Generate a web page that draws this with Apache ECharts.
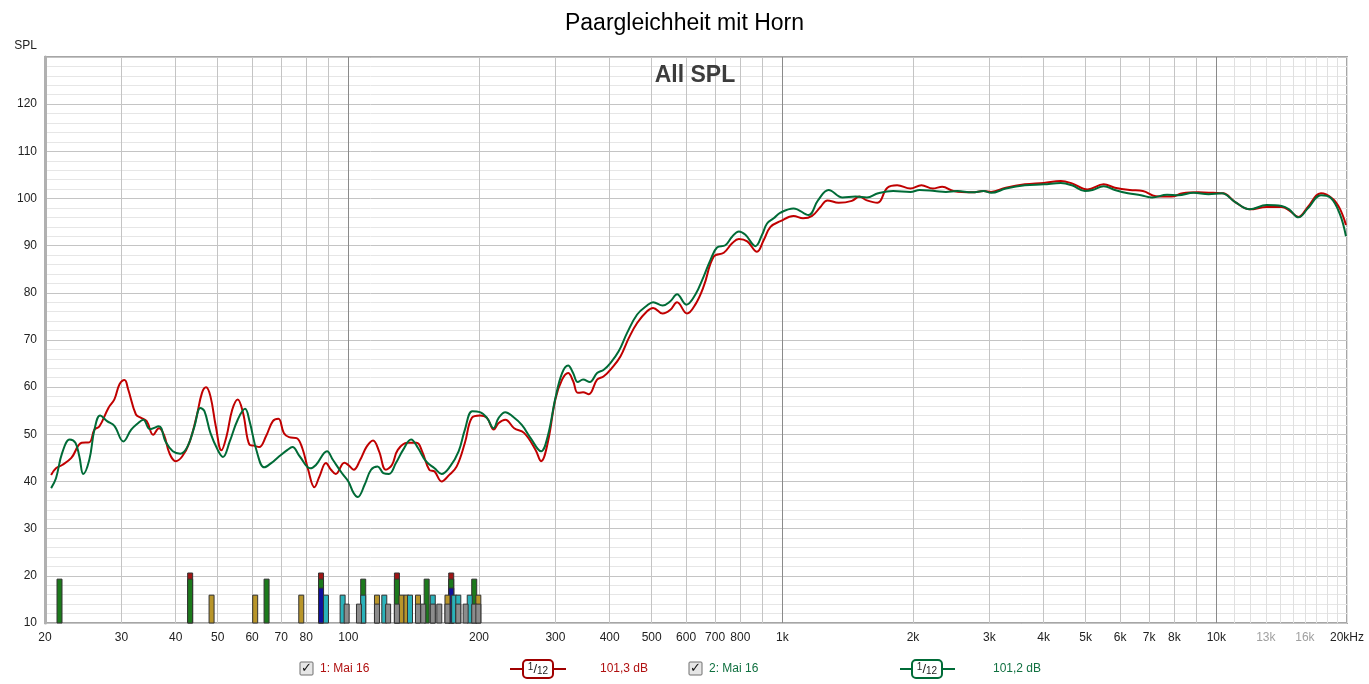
<!DOCTYPE html>
<html><head><meta charset="utf-8">
<script src="https://cdn.jsdelivr.net/npm/echarts@6/dist/echarts.min.js"></script>
<style>html,body{margin:0;padding:0;background:#fff}#c{width:1369px;height:684px}</style>
</head><body><div id="c"></div>
<script>
// ---- data ----
const redFreq = [20.66,21.2,21.9,23.0,24.3,25.3,26.0,26.7,28.0,28.9,29.7,30.5,31.1,32.4,33.3,34.3,35.5,36.6,37.6,38.7,40.0,41.4,43.0,44.7,46.0,47.0,48.1,49.5,51.0,52.4,54.0,55.6,57.2,59.2,60.6,62.3,64.6,67.0,69.0,71.0,73.0,76.0,78.3,80.8,83.5,85.8,88.8,91.2,93.5,97.9,100,102.9,106.5,110.2,114.0,117.7,122,126,130,136.7,143.7,147.9,153.6,158,164,170.8,177.7,185.6,192.6,201,208.6,216.3,222,230,241,254,270,278,288,300,310.8,320.9,329.5,337.7,347.4,358,374.2,387.7,405,423.5,442.7,462.8,487.8,503.7,530,552,572,603,630,659,695,733,766,794,830,874,906,939,990,1061,1116,1171,1224,1270,1348,1446,1505,1566,1657,1746,1839,1973,2091,2221,2336,2480,2739,2909,3026,3274,3620,4002,4381,4648,5049,5500,5837,6318,6770,7254,7877,8364,9087,9848,10390,11030,11940,13060,14140,14710,15460,16250,17420,18500,19240,19890];
const redSPL = [41.4,42.8,43.5,45.0,48.2,48.3,51.0,51.7,55.6,57.4,60.6,61.5,59.5,54.2,53.5,52.8,49.9,51.3,49.9,46.0,44.3,45.3,48.2,53.8,58.8,60.0,58.1,51.7,46.6,49.6,55.2,57.4,54.5,47.8,47.6,47.3,49.6,52.8,53.3,50.3,49.4,49.2,47.1,42.5,38.8,41.1,43.9,42.5,41.6,44.0,43.5,42.5,44.6,47.4,48.7,46.4,42.5,43.5,46.7,48.2,48.2,46.4,42.5,42.1,40.0,41.4,43.2,48.2,53.5,54.0,53.5,51.0,52.4,53.1,51.3,50.3,46.7,44.3,48.2,57.5,61.6,63.0,61.3,58.8,58.9,58.5,61.6,62.3,64.1,66.5,70.4,73.6,76.1,76.8,75.6,76.4,78.0,75.6,77.5,81.4,87.7,88.5,90.5,91.4,90.9,88.7,91.2,94.0,95.2,96.3,95.8,96.3,98.2,99.6,99.1,99.5,100.4,99.6,99.1,102.3,102.8,102.1,102.8,102.1,102.5,101.6,101.3,101.6,101.4,102.3,103.0,103.3,103.7,103.2,101.9,103.0,102.3,101.8,101.6,100.5,100.4,101.1,101.3,101.2,101.1,99.3,97.7,98.2,98.2,97.5,96.1,98.2,101.1,100.0,97.9,94.4];
const greenFreq = [20.66,21.2,21.9,22.8,23.5,24.0,24.5,25.3,26.0,26.8,27.8,28.9,30.3,31.6,32.7,33.7,34.9,36.6,37.9,39.4,41.0,42.6,44.2,45.6,46.6,48.1,50.0,51.4,53.3,55.6,57.8,59.2,61.5,64,66.4,69.0,72.4,74.3,77.3,81.7,84.2,89.3,92.1,96.6,100,102.9,105.1,109,112.8,116.8,120.4,124,128.7,133.7,139.5,144.7,150.9,158,164,171.6,179.5,185.6,193,201,208.6,216,222,230,239,251,263,278,288,300,310.8,320.9,329.5,337.7,347.4,360,374.2,387.7,401.6,419.6,438.8,462.8,487.8,503.7,530,552,572,601,630,659,683,707,739,766,794,822,867,898,922,955,990,1061,1149,1208,1278,1376,1475,1566,1662,1800,1973,2072,2245,2382,2527,2739,2909,3026,3274,3620,4002,4381,4648,4980,5182,5500,5837,6256,6705,7114,7700,8172,8857,9597,10290,11030,11940,13060,14140,14710,15460,16250,17420,18310,19240,19890];
const greenSPL = [38.6,40.7,46.0,48.9,48.2,45.3,41.6,44.6,51.0,54.0,52.8,51.8,48.5,51.0,52.3,53.1,51.1,51.7,48.5,46.4,45.9,47.4,51.7,55.6,54.9,50.3,46.7,45.2,48.5,53.1,55.4,52.8,46.4,43.0,43.9,45.2,46.7,47.3,45.3,42.8,43.5,46.4,44.6,41.8,40.0,37.5,36.7,39.3,42.5,43.2,41.8,41.6,43.9,46.7,48.9,47.1,44.3,42.8,41.6,43.2,46.4,51.0,54.9,54.7,53.5,51.3,53.5,54.7,53.8,52.0,49.2,46.4,49.6,57.7,63.0,64.6,63.0,61.1,61.6,61.1,63.0,63.7,65.1,67.6,71.5,75.4,77.3,78.0,77.3,78.2,79.7,77.5,79.6,83.5,87.0,89.6,90.1,91.9,93.0,92.3,89.9,92.3,94.7,95.8,97.0,97.9,96.5,99.6,101.8,100.2,100.4,100.2,101.1,101.6,101.4,101.8,101.6,101.4,101.6,101.3,101.6,101.2,102.1,102.8,103.0,103.3,102.8,101.6,101.8,102.6,101.8,101.1,100.7,100.2,100.8,100.7,101.2,100.9,101.1,99.3,97.7,98.6,98.4,97.7,96.0,97.9,100.7,100.2,96.8,92.0];

// marker bars (frequency lists per colour group, with their level)
const barRedFreq   = [43.2,86.5,129.4,172.6];
const barGreenFreq = [21.6,43.2,64.8,86.5,108.2,129.4,151.5,172.6,195];
const barBlueFreq  = [86.5,172.6];
const barGoldFreq  = [48.4,61.0,77.9,116.4,132.6,136.1,144.7,169.2,199.3];
const barTealFreq  = [88.8,97,108.2,121,138.7,156.5,175.3,179.2,190.4];
const barGrayFreq  = [99.1,105.8,116.4,123.5,129.4,144.7,148.8,156.5,162,169.2,179.2,186.3,195,199.3];
const barRedLevel = 20.6, barGreenLevel = 19.3, barBlueLevel = 17.4, barGoldLevel = 15.9, barTealLevel = 15.9, barGrayLevel = 14.0;

// axis ticks
const xGridFreq = [20,30,40,50,60,70,80,90,100,200,300,400,500,600,700,800,900,1000,2000,3000,4000,5000,6000,7000,8000,9000,10000];
const xLightGridFreq = [11000,12000,13000,14000,15000,16000,17000,18000,19000,20000];
const xDarkGridFreq = [100,1000,10000];
const xLabelFreq = [20,30,40,50,60,70,80,100,200,300,400,500,600,700,800,1000,2000,3000,4000,5000,6000,7000,8000,10000,13000,16000,20000];

const FONT = "'Liberation Sans', Arial, sans-serif";
const RED = '#c00000', GREEN = '#006b37';

function pairs(f, v) { return f.map((x, i) => [x, v[i]]); }
function barSeries(freqs, level, color) {
  return {
    type: 'custom', xAxisIndex: 0, yAxisIndex: 0, z: 3,
    data: freqs.map(f => [f, level]),
    renderItem: function (params, api) {
      const top = api.coord([api.value(0), api.value(1)]);
      const bot = api.coord([api.value(0), 10]);
      return { type: 'rect', shape: { x: top[0] - 2.5, y: top[1], width: 5, height: bot[1] - top[1] },
        style: { fill: color, stroke: '#333', lineWidth: 1 } };
    }
  };
}
function fmtFreq(v) {
  if (v >= 20000) return '20kHz';
  if (v === 13000 || v === 16000) return '{g|' + (v / 1000) + 'k}';
  if (v >= 1000) return (v / 1000) + 'k';
  return String(v);
}

const chart = echarts.init(document.getElementById('c'));
const xCommon = { type: 'log', min: 20, max: 20000, axisTick: { show: false }, axisLine: { show: false } };
chart.setOption({
  animation: false,
  backgroundColor: '#fff',
  title: { text: 'Paargleichheit mit Horn', left: 'center', top: 12, padding: 0,
    textStyle: { fontFamily: FONT, fontSize: 23, fontWeight: 'normal', color: '#000' } },
  grid: { left: 45, right: 22, top: 57, bottom: 61, show: true, borderColor: '#a6a6a6', borderWidth: 2, backgroundColor: '#fff' },
  xAxis: [
    Object.assign({}, xCommon, {
      axisTick: { show: false, customValues: xGridFreq },
      splitLine: { show: true, lineStyle: { color: '#c4c4c4', width: 1 } },
      axisLabel: { show: true, customValues: xLabelFreq, formatter: fmtFreq, margin: 9,
        fontFamily: FONT, fontSize: 12, color: '#222', rich: { g: { color: '#a0a0a0', fontFamily: FONT, fontSize: 12 } } }
    }),
    Object.assign({}, xCommon, {
      axisTick: { show: false, customValues: xLightGridFreq },
      splitLine: { show: true, lineStyle: { color: '#e0e0e0', width: 1 } },
      axisLabel: { show: false }
    }),
    Object.assign({}, xCommon, {
      axisTick: { show: false, customValues: xDarkGridFreq },
      splitLine: { show: true, lineStyle: { color: '#8a8a8a', width: 1 } },
      axisLabel: { show: false }
    })
  ],
  yAxis: {
    type: 'value', min: 10, max: 130, interval: 10,
    name: 'SPL', nameLocation: 'end', nameGap: 5,
    nameTextStyle: { fontFamily: FONT, fontSize: 12, color: '#222', align: 'right', padding: [0, 8, 0, 0] },
    axisLine: { show: true, lineStyle: { color: '#b0b0b0', width: 3 } },
    axisTick: { show: false },
    axisLabel: { fontFamily: FONT, fontSize: 12, color: '#222', margin: 8, formatter: v => (v >= 130 ? '' : String(v)) },
    splitLine: { show: true, lineStyle: { color: '#c4c4c4', width: 1 } },
    minorTick: { show: false, splitNumber: 5 },
    minorSplitLine: { show: true, lineStyle: { color: '#e6e6e6', width: 1 } }
  },
  series: [
    barSeries(barRedFreq, barRedLevel, '#a01515'),
    barSeries(barGreenFreq, barGreenLevel, '#1c7a1c'),
    barSeries(barBlueFreq, barBlueLevel, '#10109c'),
    barSeries(barGoldFreq, barGoldLevel, '#b8952a'),
    barSeries(barTealFreq, barTealLevel, '#2ab2ba'),
    barSeries(barGrayFreq, barGrayLevel, '#8c8c8c'),
    { name: '1: Mai 16', type: 'line', xAxisIndex: 0, smooth: 0.4, symbol: 'none', z: 5,
      data: pairs(redFreq, redSPL), lineStyle: { color: RED, width: 2 } },
    { name: '2: Mai 16', type: 'line', xAxisIndex: 0, smooth: 0.4, symbol: 'none', z: 6,
      data: pairs(greenFreq, greenSPL), lineStyle: { color: GREEN, width: 2 } }
  ],
  graphic: [
    { type: 'text', x: 695, y: 76, z: 10, style: { text: 'All SPL', fontFamily: FONT, fontSize: 23, fontWeight: 'bold', fill: '#3c3c3c', textAlign: 'center', textVerticalAlign: 'middle' } },
    // legend 1
    { type: 'rect', shape: { x: 300, y: 662, width: 13, height: 13, r: 1 }, style: { fill: '#e6e6e6', stroke: '#6e6e6e', lineWidth: 1 } },
    { type: 'text', x: 306.5, y: 668.5, style: { text: '✓', fontFamily: 'DejaVu Sans', fontSize: 13, fontWeight: 'bold', fill: '#111', textAlign: 'center', textVerticalAlign: 'middle' } },
    { type: 'text', x: 320, y: 669, style: { text: '1: Mai 16', fontFamily: FONT, fontSize: 12, fill: '#b01010', textVerticalAlign: 'middle' } },
    { type: 'line', shape: { x1: 510, y1: 669, x2: 566, y2: 669 }, style: { stroke: '#a00000', lineWidth: 2 } },
    { type: 'rect', shape: { x: 523, y: 660, width: 30, height: 18, r: 4 }, style: { fill: '#fff', stroke: '#a00000', lineWidth: 2 } },
    { type: 'text', x: 538, y: 669, style: { text: '{a|1}{b|/}{c|12}', textAlign: 'center', textVerticalAlign: 'middle',
      rich: { a: { fontFamily: FONT, fontSize: 10, fill: '#222', padding: [0, 0, 4, 0] }, b: { fontFamily: FONT, fontSize: 13, fill: '#222' }, c: { fontFamily: FONT, fontSize: 10, fill: '#222', padding: [4, 0, 0, 0] } } } },
    { type: 'text', x: 600, y: 669, style: { text: '101,3 dB', fontFamily: FONT, fontSize: 12, fill: '#b01010', textVerticalAlign: 'middle' } },
    // legend 2
    { type: 'rect', shape: { x: 689, y: 662, width: 13, height: 13, r: 1 }, style: { fill: '#e6e6e6', stroke: '#6e6e6e', lineWidth: 1 } },
    { type: 'text', x: 695.5, y: 668.5, style: { text: '✓', fontFamily: 'DejaVu Sans', fontSize: 13, fontWeight: 'bold', fill: '#111', textAlign: 'center', textVerticalAlign: 'middle' } },
    { type: 'text', x: 709, y: 669, style: { text: '2: Mai 16', fontFamily: FONT, fontSize: 12, fill: '#107040', textVerticalAlign: 'middle' } },
    { type: 'line', shape: { x1: 900, y1: 669, x2: 955, y2: 669 }, style: { stroke: '#006b37', lineWidth: 2 } },
    { type: 'rect', shape: { x: 912, y: 660, width: 30, height: 18, r: 4 }, style: { fill: '#fff', stroke: '#006b37', lineWidth: 2 } },
    { type: 'text', x: 927, y: 669, style: { text: '{a|1}{b|/}{c|12}', textAlign: 'center', textVerticalAlign: 'middle',
      rich: { a: { fontFamily: FONT, fontSize: 10, fill: '#222', padding: [0, 0, 4, 0] }, b: { fontFamily: FONT, fontSize: 13, fill: '#222' }, c: { fontFamily: FONT, fontSize: 10, fill: '#222', padding: [4, 0, 0, 0] } } } },
    { type: 'text', x: 993, y: 669, style: { text: '101,2 dB', fontFamily: FONT, fontSize: 12, fill: '#107040', textVerticalAlign: 'middle' } }
  ]
});
</script></body></html>
